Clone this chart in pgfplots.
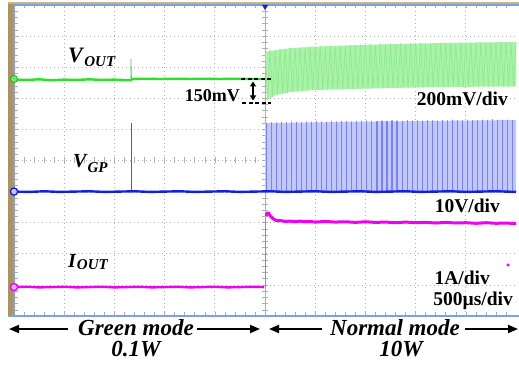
\documentclass[border=0pt]{standalone}
\usepackage{pgfplots}
\pgfplotsset{compat=1.18}
\usepackage{fontspec}
\setmainfont{Liberation Serif}
\usetikzlibrary{arrows.meta}
\definecolor{scgreen}{RGB}{40,225,40}
\definecolor{grfill}{RGB}{170,242,170}
\definecolor{grline}{RGB}{140,236,140}
\definecolor{scblue}{RGB}{20,30,225}
\definecolor{blfill}{RGB}{195,200,250}
\definecolor{blline}{RGB}{120,130,245}
\definecolor{blspike}{RGB}{70,85,240}
\definecolor{scmag}{RGB}{240,0,240}
\definecolor{frameblue}{RGB}{125,160,228}
\definecolor{barbrown}{RGB}{172,146,96}
\definecolor{tanline}{RGB}{205,180,125}
\definecolor{gridgray}{RGB}{175,175,175}
\begin{document}
\begin{tikzpicture}[x=1pt,y=1pt]
\useasboundingbox (-14,-53) rectangle (505,316);
\fill[white] (-14,-53) rectangle (505,316);
% ---- frame and minor ticks (under the traces)
\foreach \i in {1,...,49} {
  \draw[gridgray, line width=0.5pt] ({\i*10.04},152.5) -- ({\i*10.04},158.5);
  \draw[gridgray, line width=0.5pt] (248,{\i*6.22}) -- (254,{\i*6.22});
  \draw[gridgray, line width=0.5pt] ({\i*10.04},0) -- ({\i*10.04},3.5);
  \draw[gridgray, line width=0.5pt] ({\i*10.04},311) -- ({\i*10.04},307.5);
  \draw[gridgray, line width=0.5pt] (0,{\i*6.22}) -- (3.5,{\i*6.22});
}
\draw[gridgray, line width=0.7pt] (251,0) -- (251,311);
\fill[barbrown] (-6,0) rectangle (-1,312.5);
\draw[tanline, line width=1.4pt] (-6,312.8) -- (505,312.8);
\draw[frameblue, line width=1.4pt] (0,0) -- (0,311) -- (505,311);
\draw[frameblue, line width=1.6pt] (-6,0) -- (505,0);
\begin{axis}[at={(0,0)}, anchor=south west, scale only axis,
  width=502pt, height=311pt,
  xmin=0, xmax=10, ymin=0, ymax=10,
  xtick={1,...,9}, ytick={1,...,9},
  xticklabels={}, yticklabels={},
  major tick length=0pt,
  grid=major,
  major grid style={gridgray, line width=0.7pt, dash pattern=on 0.8pt off 3.2pt},
  axis line style={draw=none},
  clip=false]
% ---- green (VOUT) normal mode band
\addplot[fill=grfill, draw=none] coordinates {(5.0,8.50)(5.5,8.61)(6,8.66)(7,8.72)(8,8.76)(9,8.79)(10,8.81)(10,7.38)(9,7.37)(8,7.35)(7,7.31)(6,7.27)(5.5,7.20)(5.2,7.10)(5.05,6.95)} -- cycle;
\addplot[grline, line width=0.7pt, line join=round] coordinates {
(5.00,8.50)(5.05,6.95)(5.10,8.56)(5.15,7.06)(5.20,8.55)(5.25,7.12)(5.30,8.60)(5.35,7.15)(5.40,8.58)(5.45,7.18)
(5.50,8.62)(5.55,7.20)(5.60,8.60)(5.65,7.22)(5.70,8.64)(5.75,7.23)(5.80,8.62)(5.85,7.25)(5.90,8.66)(5.95,7.26)
(6.00,8.64)(6.05,7.27)(6.10,8.68)(6.15,7.26)(6.20,8.66)(6.25,7.28)(6.30,8.69)(6.35,7.27)(6.40,8.67)(6.45,7.29)
(6.50,8.70)(6.55,7.28)(6.60,8.68)(6.65,7.30)(6.70,8.71)(6.75,7.29)(6.80,8.69)(6.85,7.31)(6.90,8.72)(6.95,7.30)
(7.00,8.70)(7.05,7.32)(7.10,8.73)(7.15,7.31)(7.20,8.71)(7.25,7.33)(7.30,8.74)(7.35,7.32)(7.40,8.72)(7.45,7.33)
(7.50,8.75)(7.55,7.32)(7.60,8.73)(7.65,7.34)(7.70,8.76)(7.75,7.33)(7.80,8.74)(7.85,7.35)(7.90,8.76)(7.95,7.34)
(8.00,8.75)(8.05,7.35)(8.10,8.77)(8.15,7.34)(8.20,8.75)(8.25,7.36)(8.30,8.78)(8.35,7.35)(8.40,8.76)(8.45,7.36)
(8.50,8.78)(8.55,7.35)(8.60,8.77)(8.65,7.37)(8.70,8.79)(8.75,7.36)(8.80,8.77)(8.85,7.37)(8.90,8.79)(8.95,7.36)
(9.00,8.78)(9.05,7.38)(9.10,8.80)(9.15,7.37)(9.20,8.78)(9.25,7.38)(9.30,8.80)(9.35,7.37)(9.40,8.79)(9.45,7.38)
(9.50,8.81)(9.55,7.37)(9.60,8.79)(9.65,7.39)(9.70,8.81)(9.75,7.38)(9.80,8.80)(9.85,7.39)(9.90,8.81)(9.95,7.38)(10.00,8.80)};
% ---- green (VOUT) green mode
\addplot[scgreen, line width=0.7pt] coordinates {(2.33,7.60)(2.33,8.26)(2.34,7.62)};
\addplot[scgreen, line width=2.4pt] coordinates {
(0.00,7.60)(0.25,7.59)(0.50,7.61)(0.75,7.58)(1.00,7.60)(1.25,7.59)(1.50,7.61)(1.75,7.59)(2.00,7.60)(2.32,7.58)
(2.36,7.62)(2.60,7.63)(2.90,7.62)(3.20,7.63)(3.50,7.62)(3.80,7.63)(4.10,7.62)(4.40,7.63)(4.70,7.62)(5.00,7.62)};
% ---- blue (VGP) normal mode pulses
\addplot[fill=blfill, draw=none] coordinates {(5.0,4.0)(5.0,6.20)(7,6.25)(10,6.30)(10,4.0)} -- cycle;
\addplot[blline, line width=1.1pt, line join=round] coordinates {
(5.03,4)(5.03,6.20)(5.03,4)(5.13,4)(5.13,6.22)(5.13,4)(5.23,4)(5.23,6.21)(5.23,4)(5.33,4)(5.33,6.23)(5.33,4)
(5.43,4)(5.43,6.22)(5.43,4)(5.53,4)(5.53,6.24)(5.53,4)(5.63,4)(5.63,6.23)(5.63,4)(5.73,4)(5.73,6.22)(5.73,4)
(5.83,4)(5.83,6.24)(5.83,4)(5.93,4)(5.93,6.23)(5.93,4)(6.03,4)(6.03,6.25)(6.03,4)(6.13,4)(6.13,6.24)(6.13,4)
(6.23,4)(6.23,6.23)(6.23,4)(6.33,4)(6.33,6.25)(6.33,4)(6.43,4)(6.43,6.24)(6.43,4)(6.53,4)(6.53,6.26)(6.53,4)
(6.63,4)(6.63,6.25)(6.63,4)(6.73,4)(6.73,6.24)(6.73,4)(6.83,4)(6.83,6.26)(6.83,4)(6.93,4)(6.93,6.25)(6.93,4)
(7.03,4)(7.03,6.27)(7.03,4)(7.13,4)(7.13,6.26)(7.13,4)(7.23,4)(7.23,6.25)(7.23,4)(7.33,4)(7.33,6.27)(7.33,4)
(7.43,4)(7.43,6.26)(7.43,4)(7.53,4)(7.53,6.28)(7.53,4)(7.63,4)(7.63,6.27)(7.63,4)(7.73,4)(7.73,6.26)(7.73,4)
(7.83,4)(7.83,6.28)(7.83,4)(7.93,4)(7.93,6.27)(7.93,4)(8.03,4)(8.03,6.28)(8.03,4)(8.13,4)(8.13,6.27)(8.13,4)
(8.23,4)(8.23,6.29)(8.23,4)(8.33,4)(8.33,6.28)(8.33,4)(8.43,4)(8.43,6.27)(8.43,4)(8.53,4)(8.53,6.29)(8.53,4)
(8.63,4)(8.63,6.28)(8.63,4)(8.73,4)(8.73,6.30)(8.73,4)(8.83,4)(8.83,6.29)(8.83,4)(8.93,4)(8.93,6.28)(8.93,4)
(9.03,4)(9.03,6.30)(9.03,4)(9.13,4)(9.13,6.29)(9.13,4)(9.23,4)(9.23,6.28)(9.23,4)(9.33,4)(9.33,6.30)(9.33,4)
(9.43,4)(9.43,6.29)(9.43,4)(9.53,4)(9.53,6.31)(9.53,4)(9.63,4)(9.63,6.30)(9.63,4)(9.73,4)(9.73,6.29)(9.73,4)
(9.83,4)(9.83,6.30)(9.83,4)(9.93,4)(9.93,6.29)(9.93,4)};
% ---- blue spike in green mode
\addplot[blspike, line width=0.8pt] coordinates {(2.33,4.0)(2.33,6.20)};
% ---- blue baseline
\addplot[scblue, line width=2.4pt] coordinates {
(0.00,4.00)(0.30,3.99)(0.60,4.01)(0.90,3.99)(1.20,4.00)(1.50,4.01)(1.80,3.99)(2.10,4.00)(2.40,4.01)(2.70,3.99)
(3.00,4.00)(3.30,4.01)(3.60,3.99)(3.90,4.00)(4.20,4.01)(4.50,3.99)(4.80,4.00)(5.10,4.01)(5.40,3.99)(5.70,4.00)
(6.00,4.01)(6.30,3.99)(6.60,4.00)(6.90,4.01)(7.20,3.99)(7.50,4.00)(7.80,4.01)(8.10,3.99)(8.40,4.00)(8.70,4.01)
(9.00,3.99)(9.30,4.00)(9.60,4.01)(10.00,3.99)};
% ---- magenta (IOUT)
\addplot[scmag!70, line width=0.8pt] coordinates {(5.00,0.93)(5.00,3.15)};
\addplot[scmag, line width=2.4pt] coordinates {
(0.00,0.93)(0.25,0.94)(0.50,0.92)(0.75,0.93)(1.00,0.94)(1.25,0.92)(1.50,0.93)(1.75,0.94)(2.00,0.92)(2.25,0.93)
(2.50,0.94)(2.75,0.92)(3.00,0.93)(3.25,0.94)(3.50,0.92)(3.75,0.93)(4.00,0.94)(4.25,0.92)(4.50,0.93)(4.75,0.94)(4.98,0.93)};
\addplot[scmag, line width=3.0pt] coordinates {
(5.02,3.22)(5.04,3.30)(5.07,3.31)(5.10,3.22)(5.15,3.14)(5.20,3.09)(5.25,3.06)(5.30,3.07)(5.40,3.04)(5.50,3.05)
(5.60,3.03)(5.70,3.05)(5.80,3.03)(5.90,3.04)(6.00,3.02)(6.20,3.04)(6.40,3.02)(6.60,3.03)(6.80,3.01)(7.00,3.03)
(7.20,3.01)(7.40,3.02)(7.60,3.00)(7.80,3.02)(8.00,3.00)(8.20,3.01)(8.40,2.99)(8.60,3.01)(8.80,2.99)(9.00,3.00)
(9.20,2.98)(9.40,3.00)(9.60,2.98)(9.80,2.99)(10.00,2.97)};
\addplot[only marks, mark=*, mark size=1.4pt, scmag] coordinates {(9.84,1.64)};
% ---- channel markers
\addplot[only marks, mark=*, mark size=3.6pt, draw=scgreen!80!black, fill=scgreen!70!white, line width=0.8pt] coordinates {(0,7.62)};
\addplot[only marks, mark=*, mark size=3.6pt, draw=scblue, fill=blfill, line width=1.3pt] coordinates {(0,4.0)};
\addplot[only marks, mark=*, mark size=3.6pt, draw=scmag, fill=scmag!35!white, line width=1.3pt] coordinates {(0,0.93)};
\end{axis}
\fill[scblue] (248,311) -- (254,311) -- (251,306) -- cycle;
% ---- 150 mV marker
\draw[black, line width=2.2pt, dash pattern=on 4pt off 2.5pt] (227,237) -- (257,237);
\draw[black, line width=2.2pt, dash pattern=on 4pt off 2.5pt] (228,213) -- (257,213);
\draw[black, line width=1.6pt, {Triangle[length=5pt,width=6pt]}-{Triangle[length=5pt,width=6pt]}] (239,234.5) -- (239,215.5);
% ---- labels
\node[anchor=base west, inner sep=0] at (54,253) {\fontsize{22}{22}\selectfont\bfseries\itshape V\kern1.5pt\raisebox{-4pt}{\fontsize{15}{15}\selectfont OUT}};
\node[anchor=base west, inner sep=0] at (59,148) {\fontsize{20}{20}\selectfont\bfseries\itshape V\kern1pt\raisebox{-5pt}{\fontsize{15}{15}\selectfont GP}};
\node[anchor=base west, inner sep=0] at (54,48) {\fontsize{20}{20}\selectfont\bfseries\itshape I\kern1pt\raisebox{-2pt}{\fontsize{15}{15}\selectfont OUT}};
\node[anchor=base east, inner sep=0] at (226,214) {\fontsize{18}{18}\selectfont\bfseries 150mV};
\node[anchor=base east, inner sep=0] at (494,210) {\fontsize{19.5}{19.5}\selectfont\bfseries 200mV/div};
\node[anchor=base east, inner sep=0] at (486,103) {\fontsize{19.5}{19.5}\selectfont\bfseries 10V/div};
\node[anchor=base east, inner sep=0] at (476,31) {\fontsize{19.5}{19.5}\selectfont\bfseries 1A/div};
\node[anchor=base east, inner sep=0] at (499,10) {\fontsize{19.5}{19.5}\selectfont\bfseries 500µs/div};
\node[anchor=base, inner sep=0] at (122,-20) {\fontsize{23}{23}\selectfont\bfseries\itshape Green mode};
\node[anchor=base, inner sep=0] at (122,-41) {\fontsize{23}{23}\selectfont\bfseries\itshape 0.1W};
\node[anchor=base, inner sep=0] at (381,-20) {\fontsize{23}{23}\selectfont\bfseries\itshape Normal mode};
\node[anchor=base, inner sep=0] at (387,-41) {\fontsize{23}{23}\selectfont\bfseries\itshape 10W};
% ---- arrows
\draw[black, line width=1.8pt, -{Triangle[length=10pt,width=8pt]}] (54,-13) -- (-5,-13);
\draw[black, line width=1.8pt, -{Triangle[length=10pt,width=8pt]}] (183,-13) -- (246,-13);
\draw[black, line width=1.8pt, -{Triangle[length=10pt,width=8pt]}] (308,-13) -- (255,-13);
\draw[black, line width=1.8pt, -{Triangle[length=10pt,width=8pt]}] (451,-13) -- (504,-13);
\end{tikzpicture}
\end{document}
